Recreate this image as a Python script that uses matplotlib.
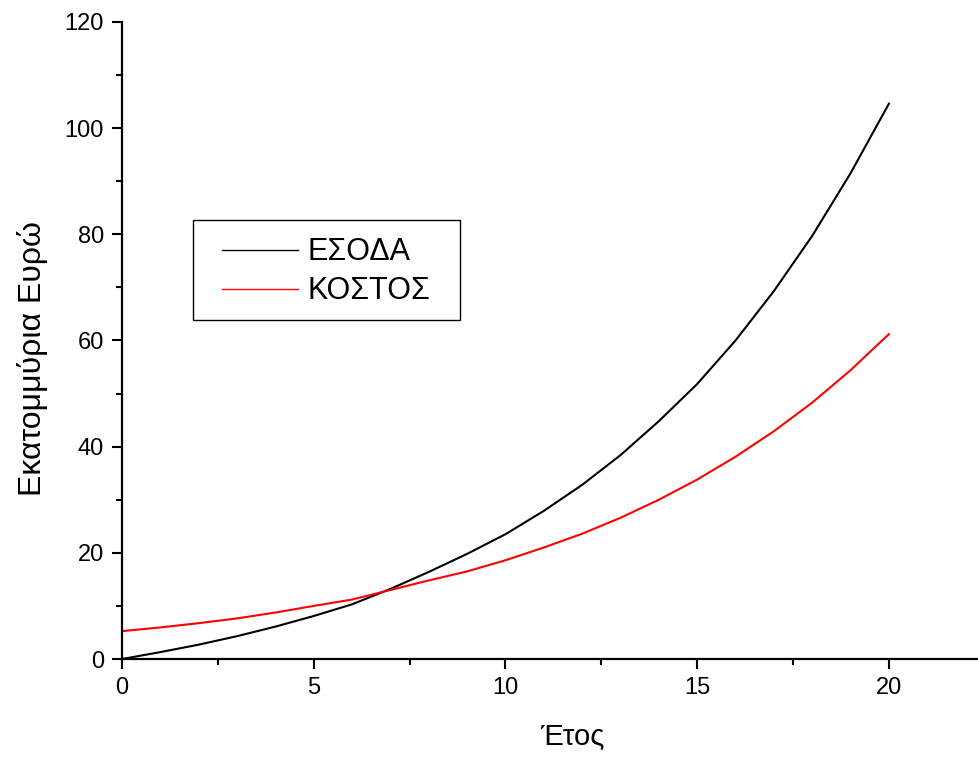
import matplotlib
matplotlib.use("Agg")
import matplotlib.pyplot as plt
from matplotlib.patches import Rectangle
from matplotlib.ticker import MultipleLocator

# values (millions of euro per year)
years = list(range(0, 21))
revenue = [0.0, 1.3, 2.7, 4.3, 6.1, 8.1, 10.3, 13.2, 16.4, 19.8, 23.5,
           27.9, 32.8, 38.4, 44.8, 51.8, 60.0, 69.3, 79.7, 91.5, 104.6]
cost = [5.25, 5.95, 6.75, 7.65, 8.75, 10.0, 11.2, 13.0, 14.8, 16.5, 18.6,
        21.0, 23.6, 26.6, 30.0, 33.8, 38.1, 42.9, 48.3, 54.4, 61.2]
series_labels = ["ΕΣΟΔΑ", "ΚΟΣΤΟΣ"]

plt.rcParams["font.family"] = ["Liberation Sans", "DejaVu Sans"]

fig = plt.figure(figsize=(9.79, 7.58), dpi=100)
ax = fig.add_axes([0.1246, 0.1306, 0.8754, 0.8404])

ax.plot(years, revenue, color="black", linewidth=1.5, label=series_labels[0])
ax.plot(years, cost, color="red", linewidth=1.5, label=series_labels[1])

ax.set_xlim(0, 22.35)
ax.set_ylim(0, 120)
ax.xaxis.set_major_locator(MultipleLocator(5))
ax.xaxis.set_minor_locator(MultipleLocator(2.5))
ax.yaxis.set_major_locator(MultipleLocator(20))
ax.yaxis.set_minor_locator(MultipleLocator(10))

for side in ("top", "right"):
    ax.spines[side].set_visible(False)
for side in ("left", "bottom"):
    ax.spines[side].set_linewidth(1.6)

ax.tick_params(which="major", direction="out", length=7, width=1.5, labelsize=17, pad=6)
ax.tick_params(which="minor", direction="out", length=4, width=1.5)

ax.set_xlabel("Έτος", fontsize=21)
ax.set_ylabel("Εκατομμύρια Ευρώ", fontsize=23)
ax.xaxis.set_label_coords(0.525, -0.1)
ax.yaxis.set_label_coords(-0.086, 0.472)

# legend entries without frame, box drawn separately (wider side padding)
leg = ax.legend(loc="upper left", bbox_to_anchor=(0.1167, 0.662), borderaxespad=0,
                borderpad=0, fontsize=22, frameon=False, handlelength=2.5,
                handletextpad=0.3, labelspacing=0.3)
for line in leg.get_lines():
    line.set_linewidth(1.0)
ax.add_patch(Rectangle((0.0828, 0.5322), 0.3116, 0.157, transform=ax.transAxes,
                       fill=False, edgecolor="black", linewidth=1.0, zorder=4))

fig.savefig("out.png", dpi=100)
